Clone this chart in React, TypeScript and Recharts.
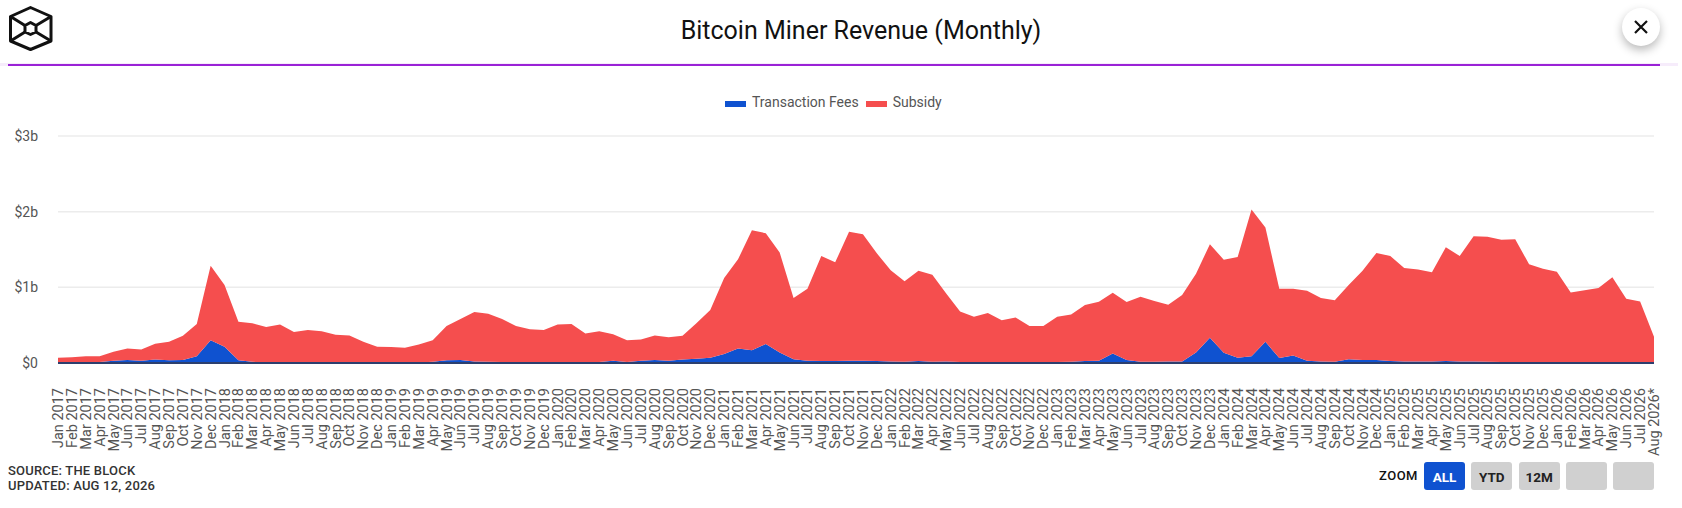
import { Area, AreaChart, CartesianGrid, Legend, XAxis, YAxis } from "recharts";

const months = [
  "Jan 2017", "Feb 2017", "Mar 2017", "Apr 2017", "May 2017", "Jun 2017", "Jul 2017", "Aug 2017", "Sep 2017", "Oct 2017", "Nov 2017", "Dec 2017",
  "Jan 2018", "Feb 2018", "Mar 2018", "Apr 2018", "May 2018", "Jun 2018", "Jul 2018", "Aug 2018", "Sep 2018", "Oct 2018", "Nov 2018", "Dec 2018",
  "Jan 2019", "Feb 2019", "Mar 2019", "Apr 2019", "May 2019", "Jun 2019", "Jul 2019", "Aug 2019", "Sep 2019", "Oct 2019", "Nov 2019", "Dec 2019",
  "Jan 2020", "Feb 2020", "Mar 2020", "Apr 2020", "May 2020", "Jun 2020", "Jul 2020", "Aug 2020", "Sep 2020", "Oct 2020", "Nov 2020", "Dec 2020",
  "Jan 2021", "Feb 2021", "Mar 2021", "Apr 2021", "May 2021", "Jun 2021", "Jul 2021", "Aug 2021", "Sep 2021", "Oct 2021", "Nov 2021", "Dec 2021",
  "Jan 2022", "Feb 2022", "Mar 2022", "Apr 2022", "May 2022", "Jun 2022", "Jul 2022", "Aug 2022", "Sep 2022", "Oct 2022", "Nov 2022", "Dec 2022",
  "Jan 2023", "Feb 2023", "Mar 2023", "Apr 2023", "May 2023", "Jun 2023", "Jul 2023", "Aug 2023", "Sep 2023", "Oct 2023", "Nov 2023", "Dec 2023",
  "Jan 2024", "Feb 2024", "Mar 2024", "Apr 2024", "May 2024", "Jun 2024", "Jul 2024", "Aug 2024", "Sep 2024", "Oct 2024", "Nov 2024", "Dec 2024",
  "Jan 2025", "Feb 2025", "Mar 2025", "Apr 2025", "May 2025", "Jun 2025", "Jul 2025", "Aug 2025", "Sep 2025", "Oct 2025", "Nov 2025", "Dec 2025",
  "Jan 2026", "Feb 2026", "Mar 2026", "Apr 2026", "May 2026", "Jun 2026", "Jul 2026", "Aug 2026*",
];

// $ billions
const fees = [
  0.008, 0.008, 0.01, 0.012, 0.03, 0.04, 0.03, 0.045, 0.035, 0.04, 0.09, 0.3,
  0.215, 0.035, 0.015, 0.01, 0.012, 0.01, 0.008, 0.008, 0.008, 0.008, 0.006, 0.006,
  0.006, 0.006, 0.008, 0.015, 0.035, 0.04, 0.02, 0.015, 0.012, 0.012, 0.01, 0.01,
  0.01, 0.01, 0.01, 0.012, 0.03, 0.012, 0.03, 0.04, 0.03, 0.045, 0.055, 0.07,
  0.12, 0.19, 0.17, 0.25, 0.14, 0.05, 0.03, 0.025, 0.025, 0.03, 0.03, 0.025,
  0.02, 0.015, 0.025, 0.015, 0.02, 0.012, 0.01, 0.01, 0.01, 0.01, 0.01, 0.012,
  0.012, 0.015, 0.025, 0.03, 0.125, 0.04, 0.018, 0.018, 0.02, 0.02, 0.14, 0.335,
  0.135, 0.07, 0.09, 0.28, 0.065, 0.1, 0.03, 0.02, 0.018, 0.05, 0.04, 0.04,
  0.025, 0.02, 0.02, 0.02, 0.025, 0.02, 0.02, 0.015, 0.012, 0.01, 0.008, 0.008,
  0.008, 0.008, 0.008, 0.008, 0.008, 0.008, 0.008, 0.004,
];

const subsidy = [
  0.062, 0.067, 0.078, 0.078, 0.12, 0.15, 0.15, 0.21, 0.245, 0.32, 0.425, 0.985,
  0.815, 0.51, 0.51, 0.465, 0.498, 0.4, 0.427, 0.412, 0.367, 0.357, 0.274, 0.209,
  0.204, 0.194, 0.237, 0.285, 0.455, 0.54, 0.655, 0.635, 0.568, 0.478, 0.435, 0.425,
  0.5, 0.505, 0.38, 0.408, 0.35, 0.288, 0.28, 0.325, 0.31, 0.315, 0.47, 0.63,
  1.005, 1.18, 1.585, 1.465, 1.32, 0.81, 0.95, 1.39, 1.305, 1.703, 1.67, 1.425,
  1.205, 1.065, 1.195, 1.15, 0.9, 0.668, 0.6, 0.65, 0.555, 0.59, 0.48, 0.478,
  0.598, 0.625, 0.74, 0.78, 0.805, 0.765, 0.857, 0.802, 0.75, 0.88, 1.04, 1.235,
  1.23, 1.33, 1.94, 1.51, 0.915, 0.88, 0.925, 0.84, 0.812, 0.98, 1.18, 1.415,
  1.39, 1.235, 1.215, 1.18, 1.505, 1.395, 1.655, 1.655, 1.618, 1.625, 1.297, 1.237,
  1.197, 0.925, 0.952, 0.982, 1.125, 0.842, 0.805, 0.343,
];

const yTicks = [0, 1, 2, 3];
const zoomButtons = ["ALL", "YTD", "12M", "", ""];

const BLUE = "#0f52d0";
const RED = "#f54e4e";
const font = "Roboto, sans-serif";

const data = months.map((month, i) => ({ month, fees: fees[i], subsidy: subsidy[i] }));

function MonthTick({ x, y, payload }: any) {
  return (
    <text
      x={x}
      y={y}
      transform={`rotate(-90 ${x} ${y})`}
      dx={-17}
      dy={5}
      textAnchor="end"
      fontFamily={font}
      fontSize={14.5}
      fill="#555"
    >
      {payload.value}
    </text>
  );
}

function ChartLegend({ payload }: any) {
  return (
    <div style={{ display: "flex", alignItems: "center", fontFamily: font, fontSize: 14, color: "#555" }}>
      {(payload || []).map((entry: any) => (
        <div key={entry.value} style={{ display: "flex", alignItems: "center", marginRight: 7 }}>
          <span style={{ width: 21, height: 6, marginTop: 3, marginRight: 6, background: entry.color }} />
          {entry.value}
        </div>
      ))}
    </div>
  );
}

function Logo() {
  return (
    <svg width={60} height={60} style={{ position: "absolute", left: 0, top: 0 }}>
      <g fill="none" stroke="#111" strokeWidth={3} strokeLinejoin="round">
        <path d="M30.5 7.5 L51 16.5 L51 41 L30.5 49.5 L10.5 41 L10.5 16.5 Z" />
        <path d="M30.5 22.5 L36 25.5 L36 32 L30.5 34.5 L25 32 L25 25.5 Z" />
        <path d="M10.5 16.5 L25 25.5 M51 16.5 L36 25.5 M10.5 41 L25 32 M51 41 L36 32" />
      </g>
    </svg>
  );
}

export default function App() {
  return (
    <div style={{ position: "absolute", left: 0, top: 0, width: 1682, height: 508, background: "#fff", overflow: "hidden", fontFamily: font }}>
      <Logo />
      <div style={{ position: "absolute", left: 40, right: 0, top: 13, textAlign: "center", fontSize: 25, lineHeight: "36px", color: "#111" }}>
        Bitcoin Miner Revenue (Monthly)
      </div>
      <div style={{ position: "absolute", left: 0, width: 1678, top: 63, height: 3, background: "#f6ecfb" }} />
      <div style={{ position: "absolute", left: 8, width: 1652, top: 63.5, height: 2, background: "#9a22d6" }} />
      <div
        style={{
          position: "absolute",
          left: 1622,
          top: 8,
          width: 38,
          height: 38,
          borderRadius: "50%",
          background: "#fff",
          boxShadow: "0 4px 10px rgba(0,0,0,0.28)",
        }}
      >
        <svg width={38} height={38}>
          <path d="M13 13 L25 25 M25 13 L13 25" stroke="#111" strokeWidth={2.2} />
        </svg>
      </div>

      <AreaChart
        width={1682}
        height={508}
        data={data}
        margin={{ top: 136, right: 28, bottom: 47, left: 0 }}
        style={{ position: "absolute", left: 0, top: 0 }}
      >
        <CartesianGrid vertical={false} stroke="#ececec" strokeWidth={1.5} />
        <XAxis
          dataKey="month"
          interval={0}
          height={82}
          tick={<MonthTick />}
          tickLine={false}
          axisLine={{ stroke: "#2c3f6e", strokeWidth: 2 }}
        />
        <YAxis
          width={58}
          domain={[0, 3]}
          ticks={yTicks}
          tickFormatter={(v: number) => `$${v}${v === 0 ? "" : "b"}`}
          tick={{ fill: "#555", fontSize: 14, fontFamily: font }}
          tickLine={false}
          axisLine={false}
          tickMargin={14}
        />
        <Legend
          content={<ChartLegend />}
          itemSorter="dataKey"
          wrapperStyle={{ position: "absolute", left: 725, top: 94, width: "auto" }}
        />
        <Area
          dataKey="fees"
          name="Transaction Fees"
          stackId="revenue"
          type="linear"
          fill={BLUE}
          fillOpacity={1}
          stroke="none"
          isAnimationActive={false}
        />
        <Area
          dataKey="subsidy"
          name="Subsidy"
          stackId="revenue"
          type="linear"
          fill={RED}
          fillOpacity={1}
          stroke="none"
          isAnimationActive={false}
        />
      </AreaChart>

      <div style={{ position: "absolute", left: 8, top: 463, fontSize: 13, lineHeight: "15px", fontWeight: 500, letterSpacing: 0.2, color: "#333" }}>
        <div>SOURCE: THE BLOCK</div>
        <div>UPDATED: AUG 12, 2026</div>
      </div>

      <div style={{ position: "absolute", left: 1379, top: 468, fontSize: 13, lineHeight: "15px", fontWeight: 500, letterSpacing: 0.5, color: "#111" }}>
        ZOOM
      </div>
      {zoomButtons.map((label, i) => (
        <div
          key={i}
          style={{
            position: "absolute",
            left: 1424 + i * 47.3,
            top: 462,
            width: 41,
            height: 28,
            borderRadius: 3,
            background: i === 0 ? BLUE : "#d0d0d0",
            color: i === 0 ? "#fff" : "#222",
            fontSize: 13.5,
            fontWeight: 700,
            lineHeight: "30px",
            textAlign: "center",
          }}
        >
          {label}
        </div>
      ))}
    </div>
  );
}
